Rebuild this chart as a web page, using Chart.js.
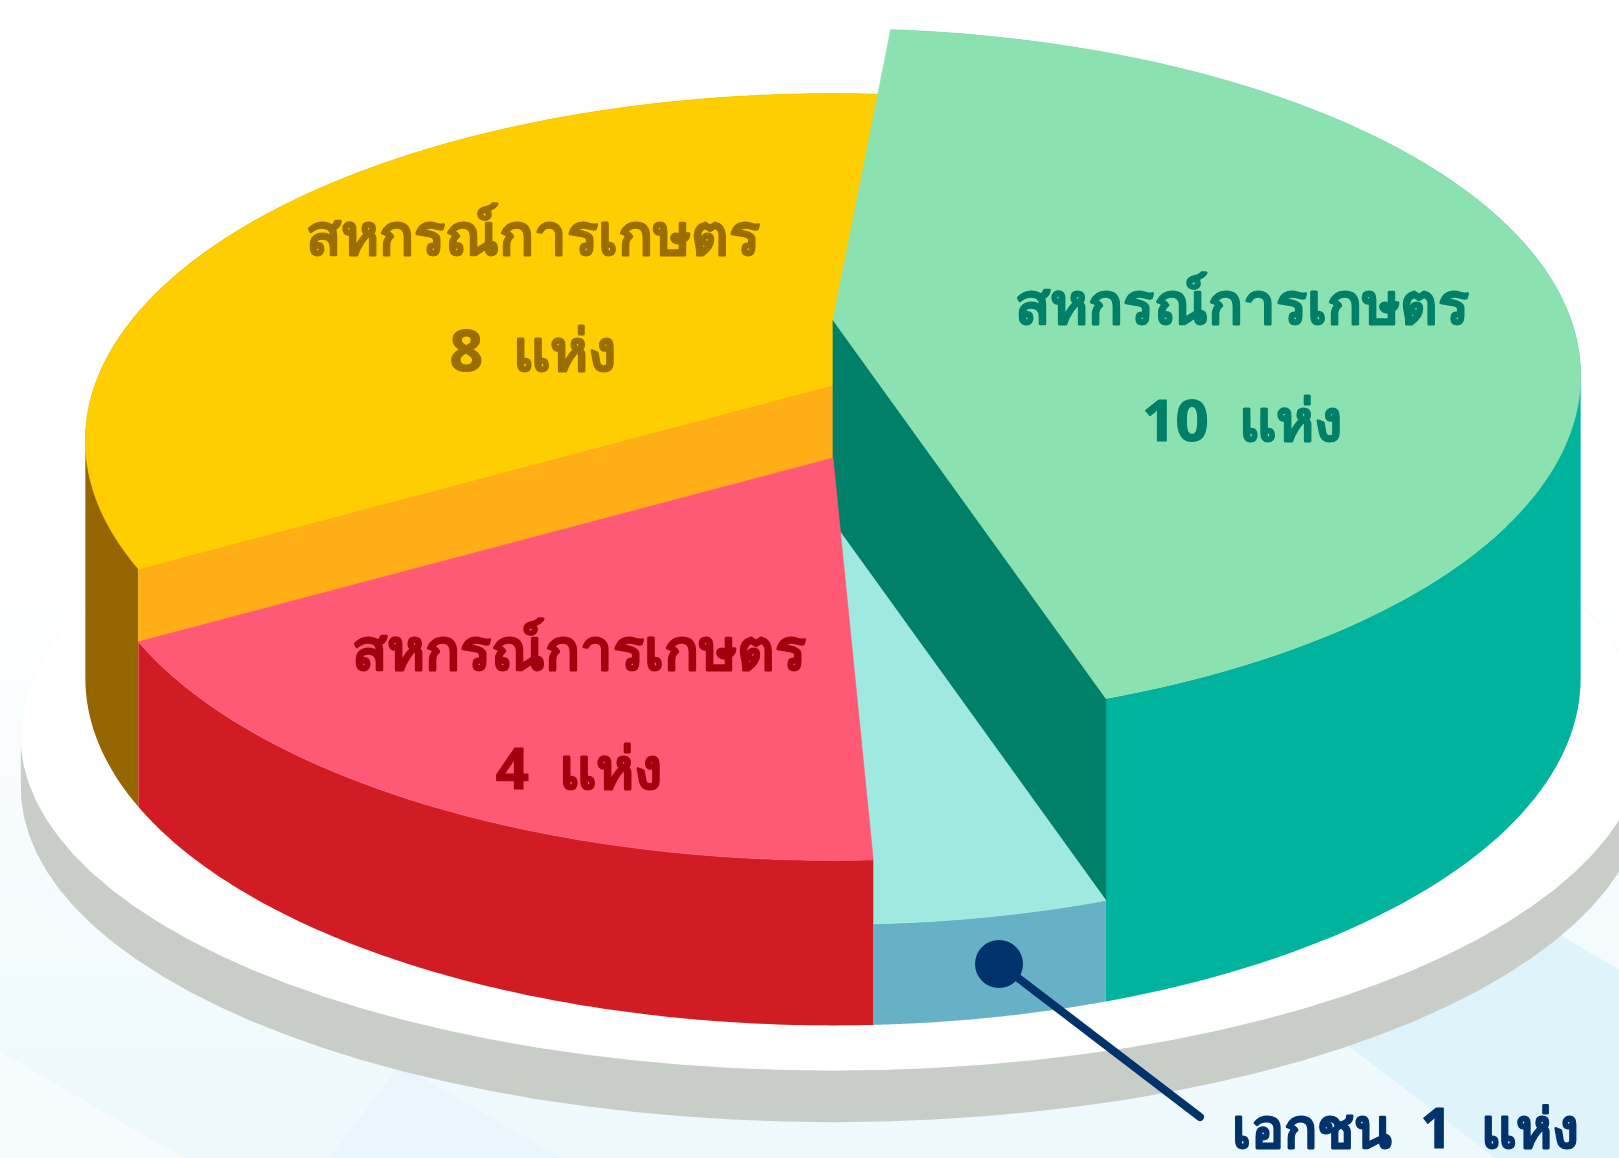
<!DOCTYPE html>
<html lang="th">
<head>
<meta charset="utf-8">
<title>pie</title>
<script src="https://cdn.jsdelivr.net/npm/chart.js@4"></script>
<style>
  html, body { margin: 0; padding: 0; background: #fff; }
  canvas { display: block; }
</style>
</head>
<body>
<canvas id="pie3d" width="1619" height="1158"></canvas>
<script>
// values, clockwise from the top
const groups = ['สหกรณ์การเกษตร', 'เอกชน', 'สหกรณ์การเกษตร', 'สหกรณ์การเกษตร'];
const counts = [10, 1, 4, 8];
const unit = 'แห่ง';

const topColors = ['#8CE1B1', '#A0E9E0', '#FF5A75', '#FFCE00'];
const rimColors = ['#00B39C', '#66B1C6', '#D21C23', '#956500'];
const textColors = ['#007F69', '#00336B', '#A3000E', '#9A6E00'];

// how far each slice stands above the base plate, in px
const lift = [303, 101, 165, 238];
// the cut face we can see: which edge of which slice, and how far down it shows
const cutFaces = {
  0: { edge: 'endAngle', downTo: 101, color: '#007F69' },
  3: { edge: 'startAngle', downTo: 165, color: '#FFAE16' }
};
const paintOrder = [3, 0, 1, 2];

// perspective of the disc on the base plane
const apexX = 833, baseY = 623;
const spreadX = 738, spreadY = 338, tilt = -0.16;

function project(angle, radius, h) {
  const u = Math.cos(angle) * radius;
  const v = Math.sin(angle) * radius;
  const d = 1 + tilt * v;
  return [apexX + spreadX * u / d, baseY - h + spreadY * v / d];
}

// the plate sits a bit flatter and lower than the drum
const plateRadius = 1.084, plateEdge = 52, plateDrop = 54, plateSquash = 0.887;

function projectPlate(angle, h) {
  const p = project(angle, plateRadius, 0);
  return [p[0], baseY + plateDrop - h + (p[1] - baseY) * plateSquash];
}

function fillPoly(ctx, pts, color) {
  ctx.beginPath();
  pts.forEach((p, i) => i ? ctx.lineTo(p[0], p[1]) : ctx.moveTo(p[0], p[1]));
  ctx.closePath();
  ctx.fillStyle = color;
  ctx.fill();
  // hairline so neighbouring faces do not show a seam
  ctx.strokeStyle = color;
  ctx.lineWidth = 0.7;
  ctx.stroke();
}

function sweep(start, end, pointAt) {
  const pts = [];
  const steps = 120;
  for (let i = 0; i <= steps; i++) {
    pts.push(pointAt(start + (end - start) * i / steps));
  }
  return pts;
}

// wall between two rims. All quads go in one path with the same winding,
// so the drum sides fill and no seams show between them
function fillWall(ctx, a, b, color) {
  ctx.beginPath();
  for (let i = 0; i < a.length - 1; i++) {
    let quad = [a[i], a[i + 1], b[i + 1], b[i]];
    let area = 0;
    quad.forEach((p, j) => {
      const q = quad[(j + 1) % 4];
      area += p[0] * q[1] - q[0] * p[1];
    });
    if (area < 0) quad = quad.reverse();
    quad.forEach((p, j) => j ? ctx.lineTo(p[0], p[1]) : ctx.moveTo(p[0], p[1]));
    ctx.closePath();
  }
  ctx.fillStyle = color;
  ctx.fill('nonzero');
}

const backdrop = {
  id: 'backdrop',
  beforeDraw(chart) {
    const ctx = chart.ctx;
    const W = chart.width, H = chart.height;
    const g = ctx.createLinearGradient(0, 560, 0, H);
    g.addColorStop(0, '#FFFFFF');
    g.addColorStop(1, '#EDF9FD');
    ctx.fillStyle = g;
    ctx.fillRect(0, 0, W, H);

    // pale diagonal bands
    fillPoly(ctx, [[1345, 1043], [1496, 1158], [1619, 1158], [1619, 970], [1551, 930]], '#DFF3FB');
    fillPoly(ctx, [[400, 1065], [560, 1158], [330, 1158]], '#E9F7FC');
    fillPoly(ctx, [[0, 1052], [183, 1158], [0, 1158]], '#F7FCFE');

    // base plate
    const full = Math.PI * 2;
    fillWall(ctx, sweep(0, full, a => projectPlate(a, 0)), sweep(0, full, a => projectPlate(a, -plateEdge)), '#C9CDC8');
    fillPoly(ctx, sweep(0, full, a => projectPlate(a, 0)), '#FFFFFF');
  }
};

const pie3d = {
  id: 'pie3d',
  beforeDatasetDraw(chart, args) {
    const ctx = chart.ctx;
    const arcs = chart.getDatasetMeta(args.index).data;
    paintOrder.forEach(i => {
      const arc = arcs[i].getProps(['startAngle', 'endAngle'], true);
      const h = lift[i];
      const topRim = sweep(arc.startAngle, arc.endAngle, a => project(a, 1, h));
      const footRim = sweep(arc.startAngle, arc.endAngle, a => project(a, 1, 0));
      fillWall(ctx, topRim, footRim, rimColors[i]);
      const cut = cutFaces[i];
      if (cut) {
        const a = arc[cut.edge];
        fillPoly(ctx, [project(a, 0, h), project(a, 1, h), project(a, 1, cut.downTo), project(a, 0, cut.downTo)], cut.color);
      }
      fillPoly(ctx, [project(0, 0, h)].concat(topRim), topColors[i]);
    });
    return false; // the flat arcs stay undrawn
  }
};

// text anchors: [centre x, baseline of first line, baseline of second line]
const labelSpots = { 0: [1242, 324, 441], 2: [579, 670, 789], 3: [533, 255, 371] };

function boldText(ctx, text, x, y) {
  ctx.fillText(text, x, y);
  ctx.strokeText(text, x, y);
}

const labels3d = {
  id: 'labels3d',
  afterDraw(chart) {
    const ctx = chart.ctx;
    ctx.save();
    ctx.textAlign = 'center';
    ctx.textBaseline = 'alphabetic';
    ctx.lineJoin = 'round';
    ctx.lineWidth = 1.2;
    ctx.font = 'bold 58px "Noto Sans", "DejaVu Sans", sans-serif';
    Object.keys(labelSpots).forEach(k => {
      const s = labelSpots[k];
      ctx.fillStyle = textColors[k];
      ctx.strokeStyle = textColors[k];
      boldText(ctx, groups[k], s[0], s[1]);
      boldText(ctx, counts[k] + '  ' + unit, s[0], s[2]);
    });

    // callout for the small slice
    ctx.strokeStyle = '#00336B';
    ctx.fillStyle = '#00336B';
    ctx.lineWidth = 8;
    ctx.lineCap = 'round';
    ctx.beginPath();
    ctx.moveTo(1005, 968);
    ctx.lineTo(1200, 1117);
    ctx.stroke();
    ctx.beginPath();
    ctx.ellipse(999, 964, 24, 24, 0, 0, Math.PI * 2);
    ctx.fill();
    ctx.lineWidth = 1.2;
    ctx.textAlign = 'left';
    ctx.font = 'bold 55px "Noto Sans", "DejaVu Sans", sans-serif';
    boldText(ctx, groups[1] + '  ' + counts[1] + '  ' + unit, 1232, 1148);
    ctx.restore();
  }
};

const chart = new Chart(document.getElementById('pie3d').getContext('2d'), {
  type: 'pie',
  data: {
    labels: groups,
    datasets: [{ data: counts, backgroundColor: topColors, borderWidth: 0 }]
  },
  options: {
    responsive: false,
    animation: false,
    rotation: 5.2,
    plugins: { legend: { display: false }, tooltip: { enabled: false } }
  },
  plugins: [backdrop, pie3d, labels3d]
});
</script>
</body>
</html>
